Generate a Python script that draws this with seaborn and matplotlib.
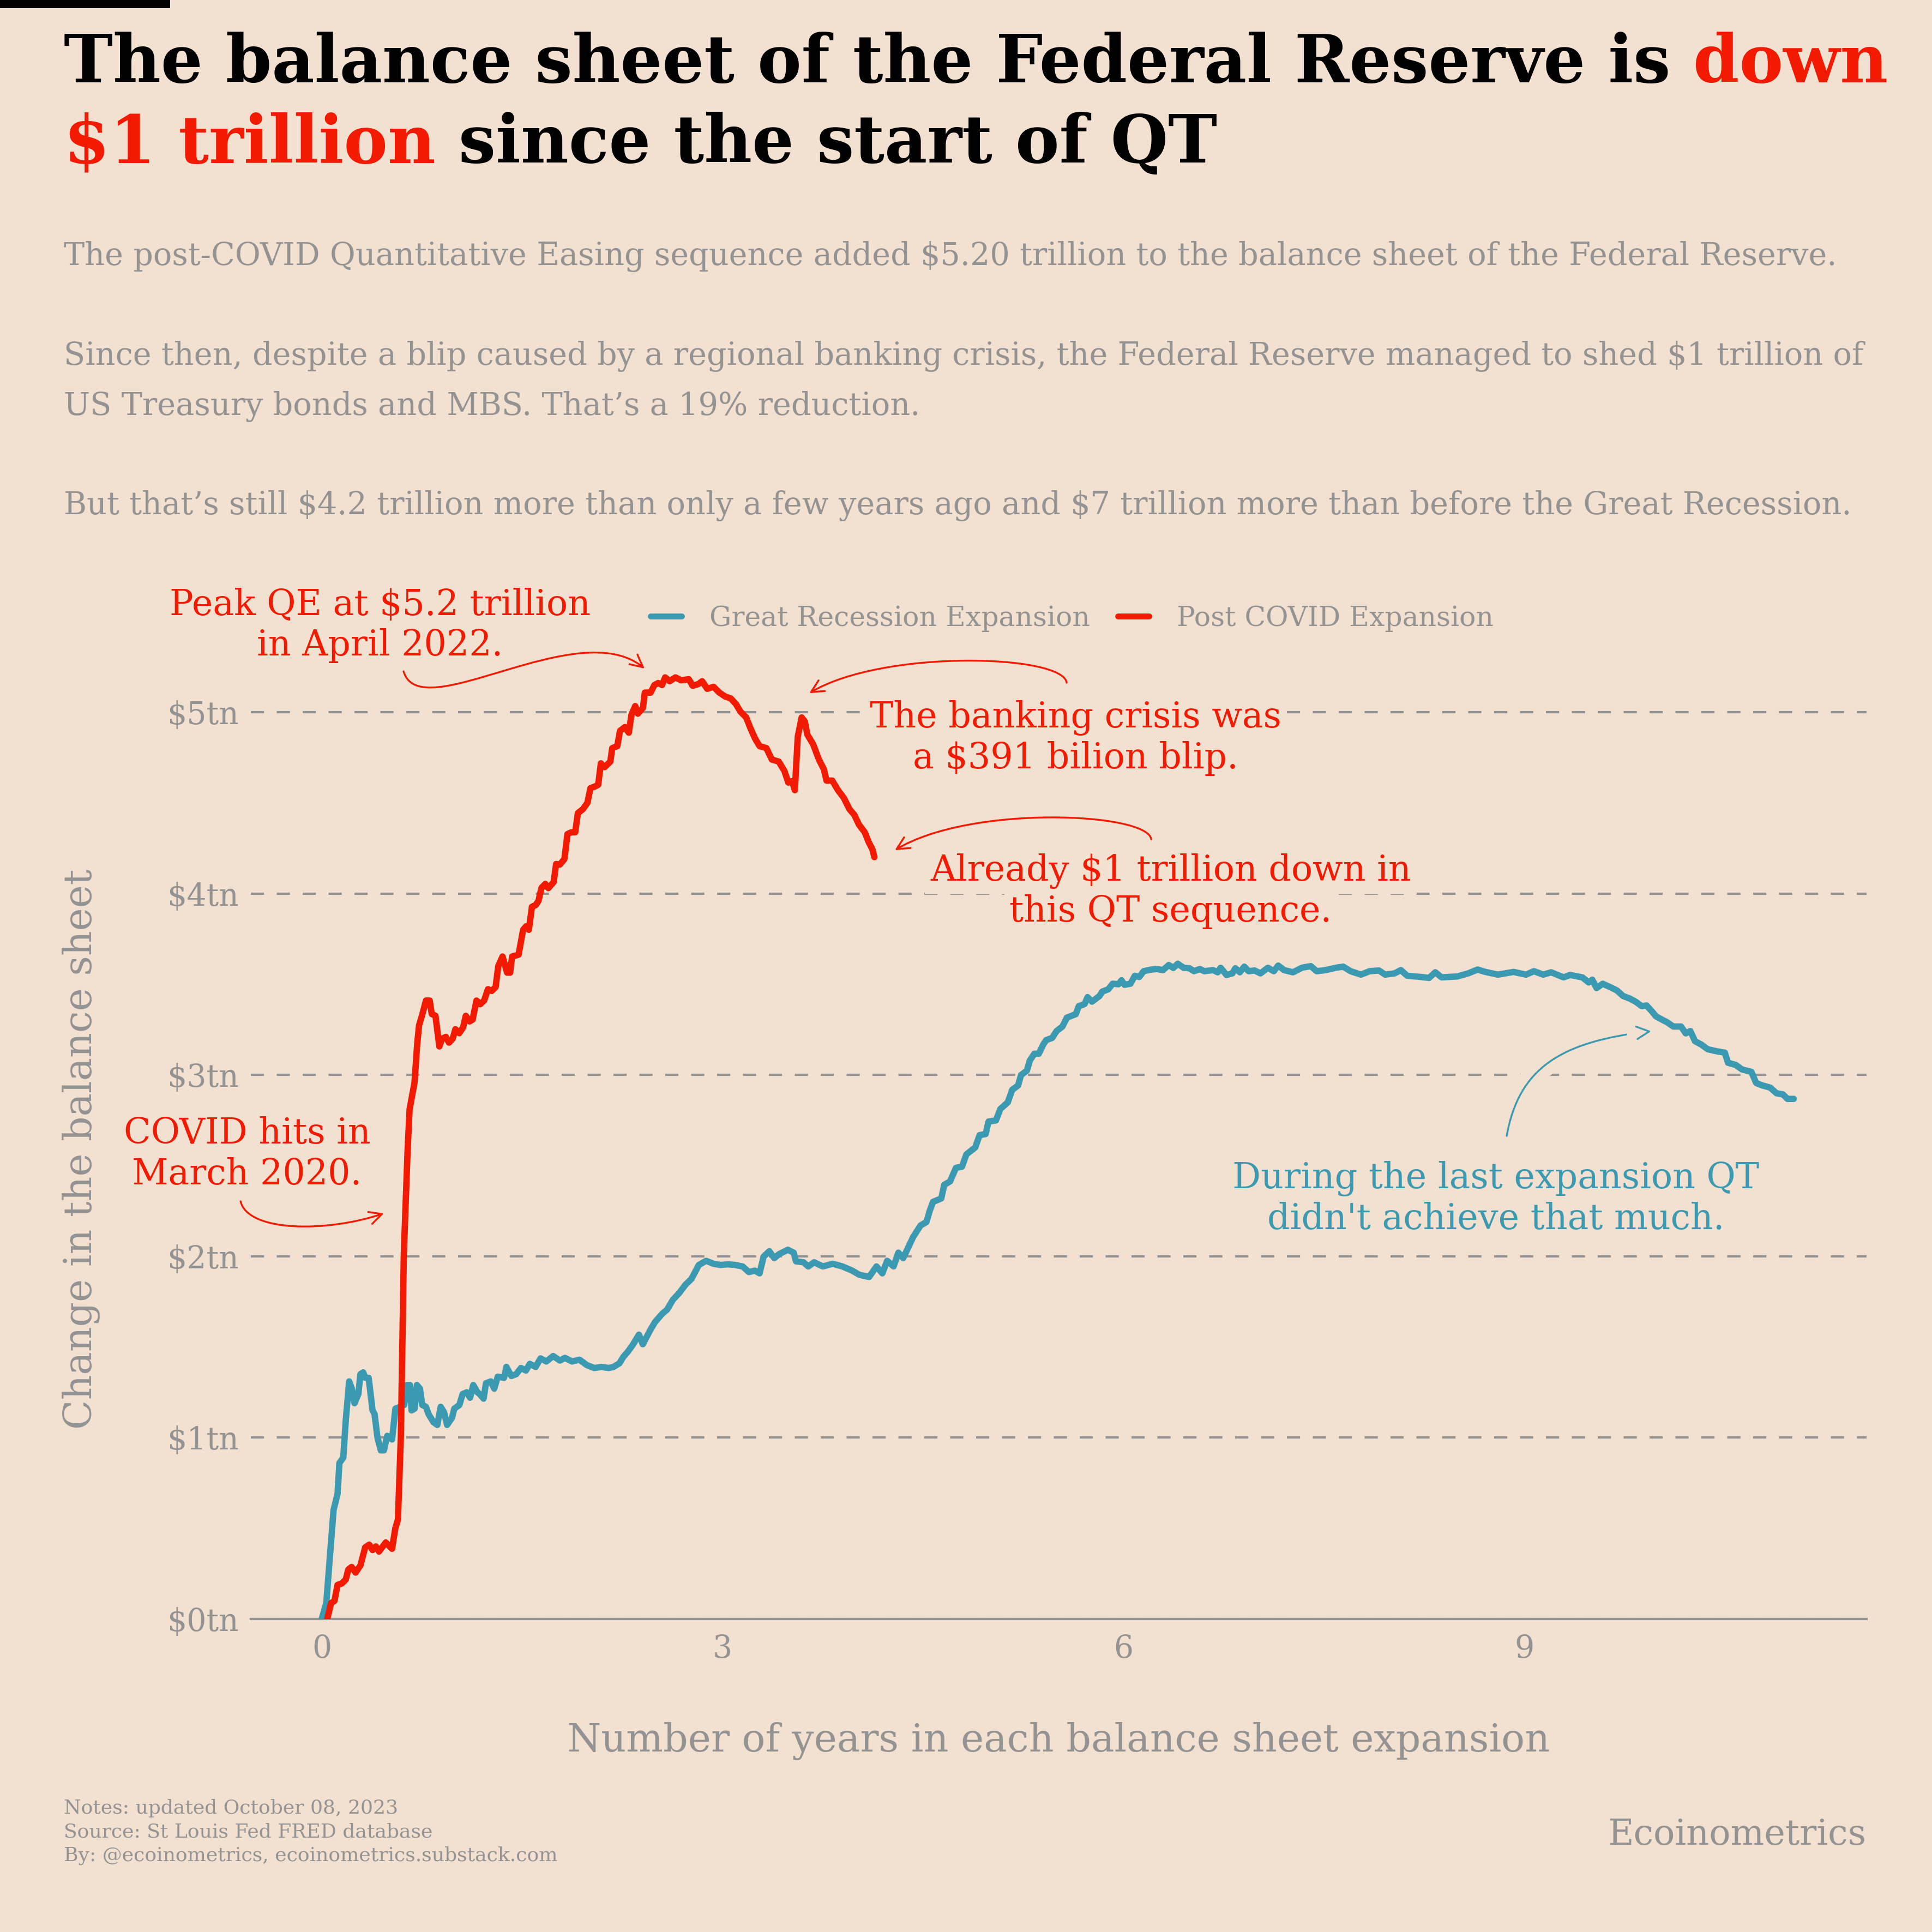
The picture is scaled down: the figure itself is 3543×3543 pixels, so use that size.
import matplotlib
matplotlib.use("Agg")
import matplotlib.pyplot as plt
import matplotlib.patheffects as pe
from matplotlib.path import Path
from matplotlib.patches import FancyArrowPatch, Rectangle
import pandas as pd
import seaborn as sns

# ---------------- data ----------------
series_names = ["Great Recession Expansion", "Post COVID Expansion"]

gr_years = [0.00, 0.034, 0.088, 0.118, 0.132, 0.161, 0.180, 0.205, 0.225, 0.245, 0.274, 0.289, 0.310, 0.325,
            0.351, 0.380, 0.395, 0.417, 0.442, 0.465, 0.490, 0.510, 0.526, 0.551, 0.585, 0.617, 0.635, 0.660,
            0.672, 0.695, 0.712, 0.735, 0.752, 0.780, 0.799, 0.836, 0.865, 0.890, 0.915, 0.938, 0.975, 0.992,
            1.030, 1.054, 1.085, 1.110, 1.134, 1.165, 1.182, 1.211, 1.229, 1.265, 1.291, 1.317, 1.364, 1.382,
            1.419, 1.455, 1.491, 1.528, 1.557, 1.601, 1.637, 1.681, 1.732, 1.783, 1.820, 1.874, 1.929, 1.984,
            2.040, 2.093, 2.147, 2.184, 2.228, 2.257, 2.293, 2.330, 2.374, 2.403, 2.457, 2.494, 2.548, 2.585,
            2.628, 2.676, 2.723, 2.767, 2.822, 2.877, 2.931, 2.986, 3.040, 3.095, 3.150, 3.197, 3.241, 3.277,
            3.307, 3.350, 3.387, 3.423, 3.489, 3.532, 3.550, 3.605, 3.642, 3.685, 3.751, 3.824, 3.897, 3.970,
            4.024, 4.097, 4.152, 4.196, 4.232, 4.280, 4.316, 4.352, 4.371, 4.427, 4.482, 4.526, 4.548, 4.575,
            4.637, 4.659, 4.703, 4.747, 4.792, 4.825, 4.891, 4.924, 4.969, 4.991, 5.046, 5.079, 5.135, 5.168,
            5.212, 5.234, 5.278, 5.300, 5.334, 5.367, 5.400, 5.422, 5.467, 5.500, 5.544, 5.577, 5.644, 5.666,
            5.710, 5.732, 5.765, 5.821, 5.843, 5.887, 5.920, 5.964, 5.986, 6.009, 6.053, 6.086, 6.119, 6.152,
            6.208, 6.252, 6.296, 6.340, 6.374, 6.407, 6.451, 6.495, 6.529, 6.573, 6.606, 6.672, 6.706, 6.728,
            6.772, 6.816, 6.838, 6.872, 6.905, 6.938, 6.982, 7.026, 7.082, 7.126, 7.159, 7.203, 7.270, 7.336,
            7.403, 7.447, 7.513, 7.591, 7.646, 7.701, 7.779, 7.843, 7.913, 7.960, 8.030, 8.077, 8.124, 8.218,
            8.288, 8.335, 8.382, 8.499, 8.581, 8.651, 8.710, 8.803, 8.921, 9.014, 9.073, 9.143, 9.202, 9.295,
            9.343, 9.436, 9.483, 9.510, 9.542, 9.588, 9.659, 9.694, 9.741, 9.788, 9.834, 9.881, 9.916, 9.952,
            9.987, 10.034, 10.069, 10.116, 10.174, 10.210, 10.244, 10.279, 10.327, 10.373, 10.444, 10.502,
            10.526, 10.584, 10.631, 10.701, 10.737, 10.783, 10.842, 10.889, 10.936, 10.971, 11.018]
gr_change_tn = [0.00, 0.09, 0.60, 0.69, 0.86, 0.89, 1.10, 1.31, 1.27, 1.19, 1.24, 1.35, 1.36, 1.33,
                1.33, 1.15, 1.13, 1.00, 0.93, 0.93, 1.01, 1.00, 0.99, 1.16, 1.17, 1.18, 1.29, 1.29,
                1.15, 1.16, 1.29, 1.27, 1.18, 1.17, 1.13, 1.085, 1.07, 1.17, 1.14, 1.07, 1.11, 1.16,
                1.18, 1.24, 1.25, 1.22, 1.29, 1.25, 1.24, 1.215, 1.30, 1.31, 1.27, 1.336, 1.33, 1.39,
                1.34, 1.35, 1.384, 1.37, 1.407, 1.39, 1.437, 1.42, 1.45, 1.425, 1.44, 1.42, 1.43, 1.40,
                1.384, 1.39, 1.384, 1.39, 1.41, 1.445, 1.476, 1.514, 1.568, 1.515, 1.591, 1.637, 1.683, 1.706,
                1.76, 1.798, 1.844, 1.875, 1.952, 1.975, 1.959, 1.952, 1.956, 1.952, 1.944, 1.913, 1.921, 1.906,
                1.998, 2.028, 1.99, 2.012, 2.036, 2.02, 1.972, 1.967, 1.944, 1.967, 1.944, 1.959, 1.944, 1.921,
                1.898, 1.886, 1.944, 1.906, 1.975, 1.944, 2.02, 1.99, 2.02, 2.107, 2.17, 2.189, 2.245, 2.30,
                2.319, 2.394, 2.413, 2.488, 2.494, 2.562, 2.60, 2.668, 2.674, 2.743, 2.749, 2.812, 2.849, 2.918,
                2.942, 2.999, 3.024, 3.08, 3.117, 3.117, 3.167, 3.192, 3.204, 3.242, 3.267, 3.316, 3.335, 3.379,
                3.391, 3.429, 3.404, 3.435, 3.46, 3.472, 3.503, 3.50, 3.522, 3.497, 3.503, 3.547, 3.54, 3.572,
                3.581, 3.584, 3.578, 3.606, 3.59, 3.613, 3.591, 3.588, 3.572, 3.584, 3.572, 3.578, 3.566, 3.591,
                3.551, 3.56, 3.588, 3.566, 3.597, 3.572, 3.576, 3.56, 3.591, 3.572, 3.603, 3.578, 3.566, 3.591,
                3.60, 3.572, 3.578, 3.591, 3.597, 3.572, 3.553, 3.572, 3.576, 3.553, 3.56, 3.578, 3.547, 3.541,
                3.535, 3.566, 3.538, 3.543, 3.56, 3.581, 3.568, 3.553, 3.568, 3.553, 3.572, 3.553, 3.566, 3.538,
                3.551, 3.538, 3.51, 3.525, 3.479, 3.503, 3.479, 3.466, 3.435, 3.422, 3.404, 3.379, 3.383, 3.354,
                3.323, 3.304, 3.291, 3.267, 3.267, 3.229, 3.242, 3.186, 3.167, 3.142, 3.13, 3.123,
                3.067, 3.055, 3.03, 3.017, 2.955, 2.942, 2.93, 2.899, 2.893, 2.868, 2.868]

covid_years = [0.041, 0.070, 0.095, 0.118, 0.150, 0.180, 0.198, 0.223, 0.253, 0.289, 0.325, 0.355, 0.380,
               0.405, 0.428, 0.479, 0.526, 0.551, 0.570, 0.592, 0.614, 0.642, 0.657, 0.694, 0.714, 0.728,
               0.751, 0.780, 0.808, 0.823, 0.851, 0.880, 0.900, 0.929, 0.952, 0.980, 1.000, 1.029, 1.058,
               1.078, 1.106, 1.129, 1.158, 1.186, 1.215, 1.244, 1.272, 1.301, 1.321, 1.353, 1.387, 1.410,
               1.424, 1.473, 1.507, 1.530, 1.550, 1.573, 1.602, 1.622, 1.645, 1.673, 1.696, 1.736, 1.754,
               1.782, 1.816, 1.839, 1.868, 1.897, 1.917, 1.954, 1.988, 2.011, 2.046, 2.069, 2.089, 2.117,
               2.160, 2.174, 2.212, 2.232, 2.269, 2.298, 2.318, 2.346, 2.366, 2.404, 2.418, 2.461, 2.490,
               2.518, 2.547, 2.570, 2.604, 2.647, 2.690, 2.747, 2.776, 2.818, 2.847, 2.885, 2.933, 2.976,
               3.019, 3.061, 3.100, 3.134, 3.177, 3.205, 3.243, 3.277, 3.328, 3.369, 3.420, 3.463, 3.492,
               3.520, 3.541, 3.563, 3.592, 3.615, 3.635, 3.678, 3.721, 3.758, 3.778, 3.821, 3.864, 3.907,
               3.950, 3.987, 4.021, 4.064, 4.093, 4.122, 4.136]
covid_change_tn = [0.0, 0.088, 0.10, 0.188, 0.196, 0.218, 0.272, 0.287, 0.256, 0.295, 0.395, 0.41, 0.38,
                   0.40, 0.372, 0.422, 0.387, 0.502, 0.548, 1.008, 2.01, 2.577, 2.809, 2.957, 3.168, 3.273,
                   3.33, 3.41, 3.41, 3.336, 3.326, 3.157, 3.199, 3.21, 3.178, 3.20, 3.252, 3.23, 3.263,
                   3.326, 3.295, 3.305, 3.41, 3.39, 3.41, 3.473, 3.463, 3.484, 3.60, 3.653, 3.564, 3.564,
                   3.653, 3.663, 3.80, 3.82, 3.80, 3.927, 3.937, 3.96, 4.032, 4.053, 4.03, 4.064, 4.163,
                   4.16, 4.19, 4.328, 4.338, 4.338, 4.444, 4.465, 4.50, 4.581, 4.591, 4.60, 4.718, 4.697,
                   4.728, 4.802, 4.813, 4.897, 4.918, 4.887, 4.986, 5.034, 4.992, 5.024, 5.108, 5.108, 5.15,
                   5.161, 5.15, 5.192, 5.171, 5.192, 5.176, 5.182, 5.146, 5.155, 5.171, 5.129, 5.14, 5.108,
                   5.087, 5.076, 5.045, 5.003, 4.971, 4.918, 4.855, 4.813, 4.802, 4.739, 4.728, 4.676, 4.612,
                   4.62, 4.57, 4.866, 4.971, 4.95, 4.876, 4.823, 4.739, 4.686, 4.623, 4.623, 4.57, 4.528,
                   4.465, 4.433, 4.38, 4.338, 4.285, 4.243, 4.201]

x_ticks = [0, 3, 6, 9]
x_tick_labels = ["0", "3", "6", "9"]
y_ticks = [0, 1, 2, 3, 4, 5]
y_tick_labels = ["$0tn", "$1tn", "$2tn", "$3tn", "$4tn", "$5tn"]

title_black_1 = "The balance sheet of the Federal Reserve is"
title_red_1 = "down"
title_red_2 = "$1 trillion"
title_black_2 = "since the start of QT"
subtitle_lines = [
    "The post-COVID Quantitative Easing sequence added $5.20 trillion to the balance sheet of the Federal Reserve.",
    "Since then, despite a blip caused by a regional banking crisis, the Federal Reserve managed to shed $1 trillion of",
    "US Treasury bonds and MBS. That\u2019s a 19% reduction.",
    "But that\u2019s still $4.2 trillion more than only a few years ago and $7 trillion more than before the Great Recession.",
]
x_label = "Number of years in each balance sheet expansion"
y_label = "Change in the balance sheet"
notes_lines = ["Notes: updated October 08, 2023",
               "Source: St Louis Fed FRED database",
               "By: @ecoinometrics, ecoinometrics.substack.com"]
brand = "Ecoinometrics"
ann_peak = ["Peak QE at $5.2 trillion", "in April 2022."]
ann_bank = ["The banking crisis was", "a $391 bilion blip."]
ann_down = ["Already $1 trillion down in", "this QT sequence."]
ann_covid = ["COVID hits in", "March 2020."]
ann_gr = ["During the last expansion QT", "didn't achieve that much."]

# ---------------- style ----------------
BG = "#F2E0D0"
RED = "#F21A00"
BLUE = "#3B9AB2"
GREY = "#939393"
W = H = 3543
DPI = 300

sns.set_theme(style="white")
plt.rcParams["font.family"] = ["DejaVu Serif"]
plt.rcParams["text.parse_math"] = False
plt.rcParams["axes.unicode_minus"] = False


def fx(px):
    return px / W


def fy(py):
    return 1 - py / H


fig = plt.figure(figsize=(W / DPI, H / DPI), dpi=DPI, facecolor=BG)
renderer = fig.canvas.get_renderer()


def measure(s, fs, weight="normal"):
    t = fig.text(0, 0, s, fontsize=fs, fontweight=weight)
    w = t.get_window_extent(renderer).width
    t.remove()
    return w


def fit(s, target_px, weight="normal"):
    return 20.0 * target_px / measure(s, 20.0, weight)


# ---------------- axes + data ----------------
ax = fig.add_axes([fx(460), fy(2969), fx(3423) - fx(460), fy(1062) - fy(2969)])
ax.set_facecolor(BG)

df = pd.concat([
    pd.DataFrame({"years": gr_years, "change_tn": gr_change_tn, "series": series_names[0]}),
    pd.DataFrame({"years": covid_years, "change_tn": covid_change_tn, "series": series_names[1]}),
])
sns.lineplot(data=df, x="years", y="change_tn", hue="series", hue_order=series_names,
             palette=[BLUE, RED], estimator=None, sort=False, linewidth=2.8, ax=ax, zorder=3)

ax.set_xlim(-0.531, 11.563)
ax.set_ylim(0, 5.734)
fs_tick = fit("$5tn", 132)
ax.set_xticks(x_ticks, labels=x_tick_labels)
ax.set_yticks(y_ticks, labels=y_tick_labels)
ax.tick_params(axis="x", colors=GREY, labelsize=fs_tick, length=2.4, width=1.0, pad=4, direction="out")
ax.tick_params(axis="y", colors=GREY, labelsize=fs_tick, length=0, pad=5.3)
ax.set_xlabel("")
ax.set_ylabel("")
for s in ["top", "right", "left"]:
    ax.spines[s].set_visible(False)
ax.spines["bottom"].set_color(GREY)
ax.spines["bottom"].set_linewidth(1.0)
ax.set_axisbelow(True)
ax.yaxis.grid(True, color=GREY, linewidth=1.0, linestyle=(0, (5.8, 5.6)))
ax.xaxis.grid(False)

# legend
old = ax.get_legend()
handles = list(old.legend_handles)
labels = [t.get_text() for t in old.get_texts()]
old.remove()
fs_leg = fit("Great Recession Expansion", 698)
em = fs_leg * DPI / 72
for h in handles:
    h.set_linewidth(2.6)
leg = fig.legend(handles, labels, loc="center", bbox_to_anchor=(fx(1966), fy(1134)),
                 bbox_transform=fig.transFigure, ncol=2, frameon=False, fontsize=fs_leg,
                 handlelength=57 / em, handletextpad=51 / em, columnspacing=51 / em,
                 borderaxespad=0, borderpad=0)
for t in leg.get_texts():
    t.set_color(GREY)

# ---------------- annotations ----------------
fs_ann = fit(ann_peak[0], 773)


def x_of(px):
    return (px - 590) / 245.0


def y_of(py):
    return (2969 - py) / 332.6


def two_lines(lines, cx, base1, base2, color, box=False):
    for i, (s, b) in enumerate(zip(lines, [base1, base2])):
        kw = {}
        if box:
            kw["bbox"] = dict(boxstyle="square,pad=0.15", fc=BG, ec="none")
        ax.text(x_of(cx), y_of(b), s, ha="center", va="baseline", color=color,
                fontsize=fs_ann, zorder=6 - i, clip_on=False, **kw)


two_lines(ann_peak, 697, 1128, 1202, RED)
two_lines(ann_bank, 1972, 1334, 1409, RED, box=True)
two_lines(ann_down, 2147, 1615, 1690, RED, box=True)
two_lines(ann_covid, 453, 2097, 2172, RED)
two_lines(ann_gr, 2743, 2179, 2254, BLUE)


def curved_arrow(pts_px, color, halo=False):
    verts = [(x_of(px), y_of(py)) for px, py in pts_px]
    path = Path(verts, [Path.MOVETO, Path.CURVE4, Path.CURVE4, Path.CURVE4])
    arr = FancyArrowPatch(path=path, arrowstyle="->,head_length=0.5,head_width=0.25",
                          mutation_scale=11, lw=0.8, color=color, zorder=2)
    if halo:
        arr.set_path_effects([pe.withStroke(linewidth=10, foreground=BG)])
    arr.set_clip_on(False)
    ax.add_patch(arr)


curved_arrow([(740, 1231), (770, 1335), (1060, 1125), (1182, 1226)], RED)
curved_arrow([(1956, 1252), (1950, 1200), (1620, 1190), (1484, 1271)], RED)
curved_arrow([(2111, 1539), (2105, 1490), (1780, 1475), (1641, 1559)], RED)
curved_arrow([(441, 2203), (455, 2260), (600, 2260), (704, 2225)], RED)
curved_arrow([(2763, 2083), (2785, 1960), (2860, 1910), (3028, 1891)], BLUE, halo=True)

# ---------------- titles and texts ----------------
fig.patches.append(Rectangle((0, fy(15)), fx(312), 15 / H, transform=fig.transFigure,
                             facecolor="black", edgecolor="none"))

fs_title = fit(title_black_1 + " " + title_red_1, 3345, "bold")
x0 = 117
full1 = title_black_1 + " " + title_red_1
off1 = measure(full1, fs_title, "bold") - measure(title_red_1, fs_title, "bold")
fig.text(fx(x0), fy(151), title_black_1, fontsize=fs_title, fontweight="bold", color="black", va="baseline")
fig.text(fx(x0 + off1), fy(151), title_red_1, fontsize=fs_title, fontweight="bold", color=RED, va="baseline")
full2 = title_red_2 + " " + title_black_2
off2 = measure(full2, fs_title, "bold") - measure(title_black_2, fs_title, "bold")
fig.text(fx(x0), fy(298), title_red_2, fontsize=fs_title, fontweight="bold", color=RED, va="baseline")
fig.text(fx(x0 + off2), fy(298), title_black_2, fontsize=fs_title, fontweight="bold", color="black", va="baseline")

fs_sub = fit(subtitle_lines[3], 3279)
for s, b in zip(subtitle_lines, [486, 669, 761, 943]):
    fig.text(fx(117), fy(b), s, fontsize=fs_sub, color=GREY, va="baseline")

fs_xl = fit(x_label, 1803)
fig.text(fx(1941), fy(3212), x_label, fontsize=fs_xl, color=GREY, ha="center", va="baseline")
fs_yl = fit(y_label, 1028)
fig.text(fx(149), fy(2107), y_label, fontsize=fs_yl, color=GREY, ha="center", va="center", rotation=90)

fs_note = fit(notes_lines[2], 906)
for s, b in zip(notes_lines, [3326, 3369, 3413]):
    fig.text(fx(117), fy(b), s, fontsize=fs_note, color=GREY, va="baseline")
fs_brand = fit(brand, 475)
fig.text(fx(3423), fy(3383), brand, fontsize=fs_brand, color=GREY, ha="right", va="baseline")

fig.savefig("out.png", dpi=DPI, facecolor=BG)
